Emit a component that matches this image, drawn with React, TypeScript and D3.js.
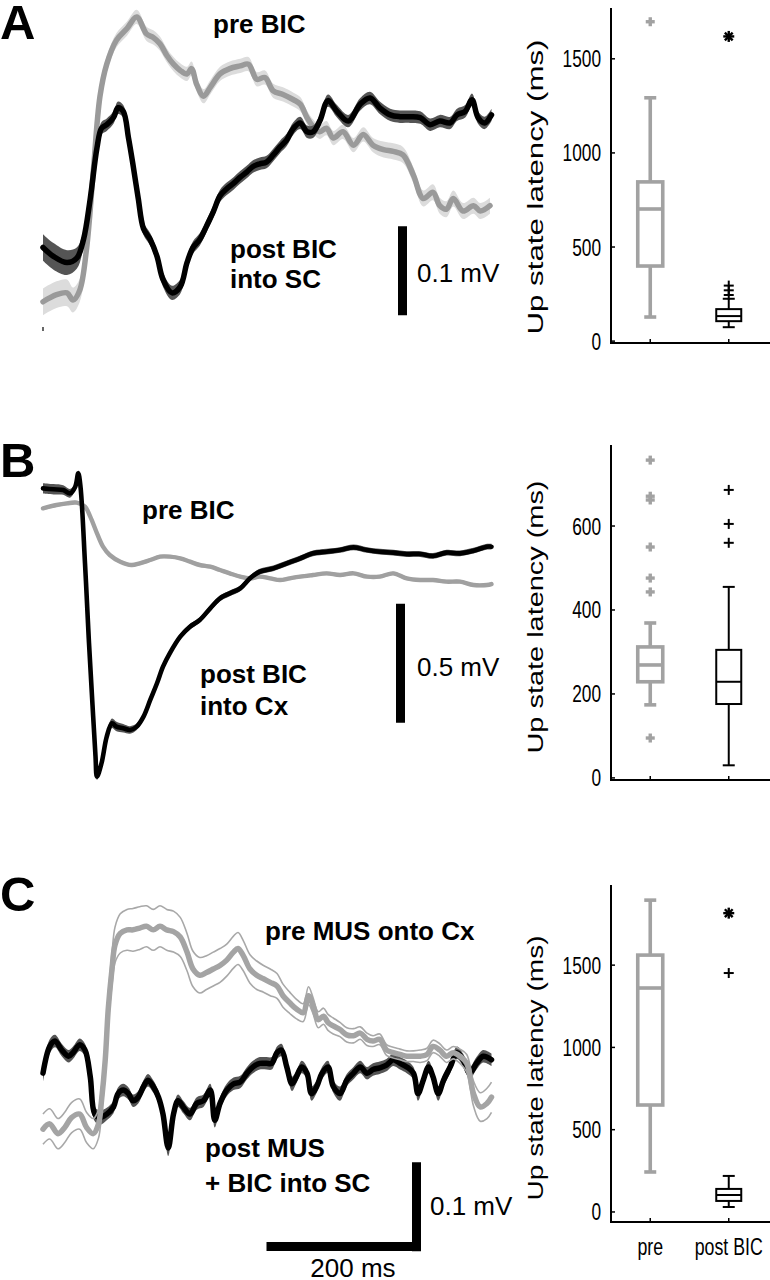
import React from "react";
import * as d3 from "d3";

// [time (ms), mean (µV), sem (µV)]
const preBicA = [
  [0, -2, 15], [18, 6, 15], [32, 8, 15], [40, 0, 14], [49, 11, 13], [58, 57, 11], [67, 144, 10], [76, 229, 9],
  [85, 265, 9], [98, 292, 8], [112, 305, 8], [125, 318, 8], [138, 299, 8], [147, 295, 8], [156, 288, 8],
  [165, 275, 8], [174, 265, 8], [183, 258, 8], [192, 254, 8], [198, 260, 8], [205, 242, 8], [214, 229, 8],
  [223, 239, 8], [236, 254, 8], [249, 260, 8], [263, 263, 8], [274, 265, 8], [285, 248, 8], [296, 250, 8],
  [307, 235, 8], [320, 231, 8], [334, 225, 8], [343, 220, 8], [352, 205, 8], [360, 195, 8], [369, 189, 8],
  [378, 193, 8], [387, 182, 8], [400, 189, 8], [414, 174, 8], [427, 186, 8], [440, 174, 8], [454, 169, 9],
  [467, 167, 9], [480, 163, 9], [494, 140, 9], [507, 114, 9], [520, 121, 9], [529, 106, 9], [538, 102, 9],
  [547, 114, 9], [560, 100, 9], [574, 106, 9], [583, 100, 9], [596, 106, 9],
];
const postBicA = [
  [0, 59, 15], [14, 49, 15], [32, 42, 14], [45, 47, 12], [54, 68, 9], [63, 114, 7], [72, 171, 7], [78, 193, 7],
  [85, 197, 7], [94, 205, 7], [100, 216, 7], [107, 212, 7], [114, 182, 7], [120, 152, 7], [127, 114, 7],
  [134, 80, 7], [143, 68, 7], [152, 49, 7], [160, 23, 8], [172, 8, 8], [183, 15, 8], [192, 42, 7], [200, 59, 7],
  [209, 68, 7], [218, 83, 7], [227, 99, 7], [236, 117, 7], [245, 125, 7], [254, 131, 7], [263, 138, 7],
  [272, 144, 7], [280, 150, 7], [289, 153, 7], [298, 155, 7], [307, 163, 7], [316, 172, 7], [325, 180, 7],
  [334, 193, 7], [343, 199, 7], [352, 189, 7], [360, 189, 7], [369, 201, 7], [380, 224, 7], [392, 212, 7],
  [407, 201, 7], [423, 220, 7], [436, 227, 7], [449, 216, 7], [463, 208, 7], [476, 206, 7], [489, 206, 7],
  [503, 205, 7], [516, 197, 7], [529, 201, 7], [543, 199, 7], [552, 208, 7], [563, 212, 7], [572, 225, 7],
  [580, 205, 7], [589, 199, 7], [598, 208, 7],
];

const preBicB = [
  [0, 301, 8], [18, 315, 8], [32, 322, 8], [45, 325, 8], [56, 308, 8], [63, 266, 8], [72, 196, 8], [80, 140, 8],
  [89, 105, 8], [103, 77, 8], [118, 63, 8], [129, 70, 8], [143, 84, 8], [156, 98, 8], [169, 98, 8], [183, 91, 8],
  [196, 77, 8], [209, 63, 8], [223, 56, 8], [236, 42, 8], [249, 28, 8], [263, 14, 8], [276, 7, 8], [289, 14, 8],
  [303, 7, 8], [316, 0, 8], [329, 7, 8], [343, 14, 8], [360, 21, 8], [378, 28, 8], [396, 21, 8], [414, 28, 8],
  [432, 14, 8], [449, 14, 8], [467, 28, 8], [485, 7, 8], [503, 0, 8], [520, 0, 8], [538, -7, 8], [556, -7, 8],
  [574, -21, 8], [592, -21, 8], [598, -17, 8],
];
const postBicB = [
  [0, 385, 22], [14, 381, 22], [27, 378, 20], [36, 364, 18], [43, 392, 14], [47, 448, 12], [50, 392, 12],
  [56, 70, 12], [61, -245, 12], [66, -525, 12], [70, -740, 14], [72, -826, 14], [78, -770, 16], [85, -658, 18],
  [92, -602, 20], [98, -616, 20], [107, -623, 18], [116, -630, 16], [125, -616, 14], [134, -574, 12],
  [143, -504, 12], [152, -434, 12], [160, -364, 12], [169, -308, 12], [183, -238, 12], [196, -196, 12],
  [209, -168, 12], [223, -119, 12], [236, -77, 12], [249, -56, 12], [263, -35, 12], [276, 7, 12], [289, 35, 12],
  [307, 49, 12], [325, 70, 12], [343, 91, 12], [360, 112, 12], [378, 119, 12], [396, 126, 12], [414, 137, 12],
  [432, 126, 12], [449, 119, 12], [467, 115, 12], [485, 109, 12], [503, 109, 12], [520, 101, 12], [538, 115, 12],
  [556, 112, 12], [574, 123, 12], [592, 140, 12], [598, 140, 12],
];

const preMusC = [
  [0, -59, 17], [9, -53, 17], [20, -64, 17], [29, -57, 17], [38, -46, 17], [49, -42, 17], [58, -57, 17],
  [67, -64, 17], [74, -53, 16], [78, -27, 15], [83, 19, 15], [87, 76, 16], [92, 121, 18], [96, 148, 20],
  [103, 161, 22], [112, 165, 23], [120, 165, 24], [129, 167, 24], [138, 169, 23], [147, 165, 23], [156, 169, 23],
  [165, 165, 23], [174, 163, 23], [183, 157, 22], [192, 140, 21], [200, 121, 20], [209, 114, 20], [218, 117, 19],
  [227, 121, 19], [236, 125, 19], [245, 131, 18], [254, 140, 18], [260, 144, 18], [267, 136, 17], [276, 121, 16],
  [285, 114, 16], [294, 110, 15], [303, 106, 15], [312, 102, 14], [320, 91, 13], [329, 83, 12], [338, 76, 11],
  [347, 72, 10], [354, 91, 10], [360, 80, 9], [367, 64, 9], [374, 68, 9], [380, 61, 9], [387, 57, 9], [396, 53, 8],
  [405, 47, 8], [414, 46, 8], [423, 49, 7], [432, 42, 7], [440, 40, 6], [449, 42, 6], [458, 30, 6], [467, 27, 6],
  [476, 25, 6], [485, 23, 6], [494, 23, 6], [503, 23, 7], [512, 25, 7], [520, 34, 7], [529, 30, 7], [538, 23, 7],
  [547, 27, 7], [556, 23, 8], [565, 15, 10], [574, -19, 14], [583, -34, 16], [592, -30, 17], [598, -23, 17],
];
const postMusC = [
  [0, 4, 10], [9, 34, 8], [16, 40, 7], [25, 30, 7], [34, 23, 7], [40, 27, 7], [49, 36, 7], [56, 30, 7], [63, 0, 7],
  [69, -42, 8], [76, -46, 8], [85, -42, 7], [94, -34, 7], [100, -19, 7], [107, -15, 7], [114, -19, 7],
  [120, -27, 7], [127, -23, 7], [134, -11, 7], [140, -4, 7], [147, -11, 7], [154, -23, 7], [160, -42, 8],
  [167, -80, 9], [174, -42, 8], [180, -27, 7], [187, -34, 7], [196, -42, 7], [205, -30, 7], [214, -27, 7],
  [223, -15, 7], [229, -49, 8], [236, -30, 7], [245, -15, 7], [254, -8, 7], [263, -6, 7], [272, 4, 7], [280, 11, 7],
  [289, 15, 7], [298, 15, 7], [305, 15, 7], [312, 27, 7], [318, 30, 7], [325, 11, 7], [332, -8, 8], [338, 0, 7],
  [345, 11, 7], [352, 4, 7], [358, -19, 8], [365, -11, 7], [372, 4, 7], [380, 11, 7], [387, -11, 7], [396, -19, 8],
  [405, -4, 7], [414, 4, 7], [423, 11, 7], [432, 4, 7], [440, 8, 7], [449, 10, 7], [458, 13, 7], [467, 19, 7],
  [476, 15, 7], [485, 11, 7], [494, 4, 7], [500, -19, 8], [507, -4, 7], [514, 11, 7], [520, 0, 7], [527, -19, 8],
  [534, -4, 7], [543, 11, 7], [552, 27, 7], [560, 19, 7], [569, 4, 7], [578, 15, 7], [587, 23, 7], [598, 19, 7],
];

// boxplots: [lower whisker, q1, median, q3, upper whisker]
const groups = ["pre", "post BIC"];
const boxA = [[128, 399, 702, 846, 1293], [74, 106, 133, 170, 225]];
const outA = [[1697], [245, 270, 295]];
const starA = [[], [1619]];
const ticksA = [0, 500, 1000, 1500];

const boxB = [[174, 229, 269, 312, 369], [30, 176, 229, 305, 455]];
const outB = [[757, 671, 662, 550, 476, 443, 95], [686, 605, 560]];
const starB = [[], []];
const ticksB = [0, 200, 400, 600];

const boxC = [[243, 650, 1361, 1561, 1895], [30, 67, 103, 140, 219]];
const outC = [[], [1452]];
const starC = [[], [1816]];
const ticksC = [0, 500, 1000, 1500];

const FONT = "'Liberation Sans', Arial, Helvetica, sans-serif";
const GRAY = "#a2a2a2";

const x = d3.scaleLinear([0, 600], [43, 493]);
const curve = d3.curveCatmullRom.alpha(0.5);

function Trace({ data, y, stroke, width, bandFill, bandLines }: any) {
  const mean = d3.line<number[]>().x(d => x(d[0])).y(d => y(d[1])).curve(curve);
  const lo = d3.line<number[]>().x(d => x(d[0])).y(d => y(d[1] - d[2])).curve(curve);
  const hi = d3.line<number[]>().x(d => x(d[0])).y(d => y(d[1] + d[2])).curve(curve);
  const band = d3.area<number[]>().x(d => x(d[0])).y0(d => y(d[1] - d[2])).y1(d => y(d[1] + d[2])).curve(curve);
  return (
    <g>
      {bandFill && <path d={band(data)!} fill={bandFill} />}
      {bandLines && (
        <g fill="none" stroke={bandLines} strokeWidth={1.6}>
          <path d={lo(data)!} />
          <path d={hi(data)!} />
        </g>
      )}
      <path d={mean(data)!} fill="none" stroke={stroke} strokeWidth={width} strokeLinejoin="round" strokeLinecap="round" />
    </g>
  );
}

function Plus({ cx, cy, r, color, w }: any) {
  return (
    <g stroke={color} strokeWidth={w}>
      <line x1={cx - r} x2={cx + r} y1={cy} y2={cy} />
      <line x1={cx} x2={cx} y1={cy - r} y2={cy + r} />
    </g>
  );
}

function Star({ cx, cy }: any) {
  const r = 5.5;
  return (
    <g stroke="#000" strokeWidth={2.4}>
      {[0, 45, 90, 135].map(a => (
        <line key={a} x1={cx - r * Math.cos((a * Math.PI) / 180)} x2={cx + r * Math.cos((a * Math.PI) / 180)}
          y1={cy - r * Math.sin((a * Math.PI) / 180)} y2={cy + r * Math.sin((a * Math.PI) / 180)} />
      ))}
    </g>
  );
}

function BoxPanel({ y, ticks, stats, outliers, stars, labelY, labelLen, xLabels }: any) {
  const bx = d3.scalePoint(groups, [611, 768]).padding(0.5);
  const [yBot, yTop] = y.range();
  const colors = [GRAY, "#000"];
  const widths = [3.6, 2];
  const hw = 12.5;
  const cap = 6;
  return (
    <g fontFamily={FONT}>
      {stats.map((s: number[], i: number) => {
        const cx = bx(groups[i])!;
        const c = colors[i];
        const w = widths[i];
        return (
          <g key={i} stroke={c} strokeWidth={w} fill="none">
            <line x1={cx} x2={cx} y1={y(s[0])} y2={y(s[1])} />
            <line x1={cx} x2={cx} y1={y(s[3])} y2={y(s[4])} />
            <line x1={cx - cap} x2={cx + cap} y1={y(s[0])} y2={y(s[0])} />
            <line x1={cx - cap} x2={cx + cap} y1={y(s[4])} y2={y(s[4])} />
            <rect x={cx - hw} width={hw * 2} y={y(s[3])} height={y(s[1]) - y(s[3])} fill="#fff" />
            <line x1={cx - hw} x2={cx + hw} y1={y(s[2])} y2={y(s[2])} />
            {outliers[i].map((o: number, j: number) => (
              <Plus key={j} cx={cx} cy={y(o)} r={i === 0 ? 4.5 : 5} color={c} w={i === 0 ? 3.4 : 2} />
            ))}
            {stars[i].map((o: number, j: number) => <Star key={j} cx={cx} cy={y(o)} />)}
          </g>
        );
      })}
      <line x1={611} x2={611} y1={yTop} y2={yBot} stroke="#000" strokeWidth={2} />
      <line x1={610} x2={770} y1={yBot} y2={yBot} stroke="#000" strokeWidth={2} />
      {ticks.map((t: number) => (
        <g key={t}>
          <line x1={611} x2={615} y1={y(t)} y2={y(t)} stroke="#000" strokeWidth={1.5} />
          <text transform={`translate(601,${y(t) + 8.5}) scale(0.72,1)`} textAnchor="end" fontSize={24}>{t}</text>
        </g>
      ))}
      {groups.map(g => (
        <line key={g} x1={bx(g)} x2={bx(g)} y1={yBot} y2={yBot - 4} stroke="#000" strokeWidth={1.5} />
      ))}
      {xLabels && groups.map(g => (
        <text key={g} transform={`translate(${bx(g)},1255) scale(0.74,1)`} textAnchor="middle" fontSize={24}>{g}</text>
      ))}
      <text transform={`translate(543,${labelY}) rotate(-90)`} textAnchor="middle" fontSize={22}
        textLength={labelLen} lengthAdjust="spacingAndGlyphs">Up state latency (ms)</text>
    </g>
  );
}

export default function App() {
  const yA = d3.scaleLinear([0, 100], [300, 211]);
  const yB = d3.scaleLinear([0, 500], [580, 461]);
  const yC = d3.scaleLinear([0, 100], [1076.7, 987.7]);

  const yBoxA = d3.scaleLinear([-10, 1770], [343, 8]);
  const yBoxB = d3.scaleLinear([-5, 793], [780, 445]);
  const yBoxC = d3.scaleLinear([-61, 1987], [1222, 885]);

  const bold = { fontFamily: FONT, fontWeight: 700, fontSize: 26 } as const;
  const reg = { fontFamily: FONT, fontSize: 26 } as const;

  return (
    <svg width={770} height={1280} style={{ position: "absolute", left: 0, top: 0, background: "#fff" }}>
      <rect width={770} height={1280} fill="#fff" />

      {/* Panel A */}
      <text x={0} y={39} fontFamily={FONT} fontWeight={700} fontSize={49}>A</text>
      <Trace data={preBicA} y={yA} stroke="#9a9a9a" width={5.5} bandFill="#dcdcdc" />
      <Trace data={postBicA} y={yA} stroke="#000" width={5.5} bandFill="#555" />
      <line x1={x(0)} x2={x(0)} y1={327} y2={331} stroke="#000" strokeWidth={1.2} />
      <text x={213} y={33} {...bold}>pre BIC</text>
      <text x={230} y={258} {...bold}>post BIC</text>
      <text x={230} y={288} {...bold}>into SC</text>
      <line x1={402.5} x2={402.5} y1={yA(-17)} y2={yA(83)} stroke="#000" strokeWidth={9} />
      <text x={417} y={282} {...reg}>0.1 mV</text>
      <BoxPanel y={yBoxA} ticks={ticksA} stats={boxA} outliers={outA} stars={starA} labelY={187} labelLen={295} />

      {/* Panel B */}
      <text x={0} y={477} fontFamily={FONT} fontWeight={700} fontSize={49}>B</text>
      <Trace data={preBicB} y={yB} stroke="#a0a0a0" width={4.4} bandFill="#cfcfcf" />
      <Trace data={postBicB} y={yB} stroke="#000" width={4.6} bandFill="#555" />
      <text x={142} y={519} {...bold}>pre BIC</text>
      <text x={200} y={683} {...bold}>post BIC</text>
      <text x={200} y={715} {...bold}>into Cx</text>
      <line x1={400.5} x2={400.5} y1={yB(-100)} y2={yB(-600)} stroke="#000" strokeWidth={9} />
      <text x={417} y={676} {...reg}>0.5 mV</text>
      <BoxPanel y={yBoxB} ticks={ticksB} stats={boxB} outliers={outB} stars={starB} labelY={617} labelLen={273} />

      {/* Panel C */}
      <text x={0} y={911} fontFamily={FONT} fontWeight={700} fontSize={49}>C</text>
      <Trace data={postMusC} y={yC} stroke="#000" width={5.5} bandFill="#555" />
      <Trace data={preMusC} y={yC} stroke="#a4a4a4" width={5.5} bandLines="#a8a8a8" />
      <text x={265} y={940} {...bold}>pre MUS onto Cx</text>
      <text x={205} y={1157} {...bold}>post MUS</text>
      <text x={205} y={1192} {...bold}>+ BIC into SC</text>
      <line x1={416.5} x2={416.5} y1={yC(-96)} y2={yC(-196)} stroke="#000" strokeWidth={9} />
      <line x1={x(298)} x2={x(498)} y1={1246.5} y2={1246.5} stroke="#000" strokeWidth={9} />
      <text x={430} y={1215} {...reg}>0.1 mV</text>
      <text x={353} y={1277} textAnchor="middle" {...reg}>200 ms</text>
      <BoxPanel y={yBoxC} ticks={ticksC} stats={boxC} outliers={outC} stars={starC} labelY={1068} labelLen={265} xLabels />
    </svg>
  );
}
